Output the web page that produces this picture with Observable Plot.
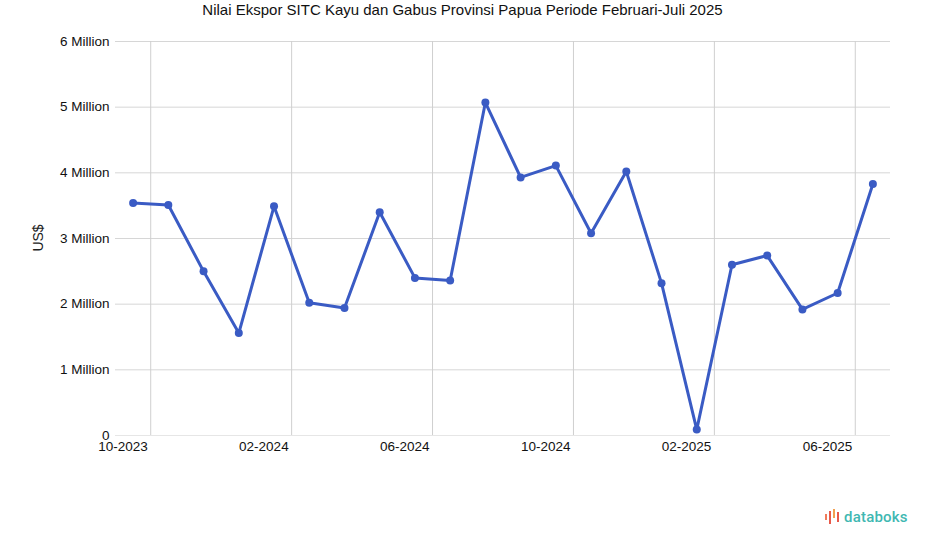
<!DOCTYPE html>
<html>
<head>
<meta charset="utf-8">
<script src="https://cdn.jsdelivr.net/npm/d3@7"></script>
<script src="https://cdn.jsdelivr.net/npm/@observablehq/plot@0.6"></script>
<style>
  html, body { margin: 0; padding: 0; background: #fff; }
  body { width: 925px; height: 547px; position: relative; overflow: hidden; font-family: "Liberation Sans", Arial, sans-serif; }
  #title { position: absolute; left: 0; top: 0; width: 925px; height: 20px; text-align: center; font-size: 15px; line-height: 20px; color: #111; }
  #chart { position: absolute; left: 0; top: 20px; }
  #ylabel { position: absolute; left: 38px; top: 238px; transform: translate(-50%, -50%) rotate(-90deg); font-size: 14px; color: #222; white-space: nowrap; }
  #logo { position: absolute; left: 824px; top: 508px; display: flex; align-items: center; gap: 2px; }
  #logo span { font-family: Roboto, sans-serif; font-size: 15px; font-weight: 500; color: #3fb8b2; letter-spacing: 0.2px; }
</style>
</head>
<body>
<div id="title">Nilai Ekspor SITC Kayu dan Gabus Provinsi Papua Periode Februari-Juli 2025</div>
<div id="chart"></div>
<div id="ylabel">US$</div>
<div id="logo">
  <svg width="18" height="18" viewBox="0 0 18 18">
    <rect x="1" y="6" width="2" height="6" fill="#f07b5a"/>
    <rect x="5" y="3" width="2" height="13" fill="#e8594a"/>
    <rect x="9" y="1" width="2" height="9" fill="#f2a04f"/>
    <rect x="13" y="4" width="2" height="10" fill="#e8594a"/>
  </svg>
  <span>databoks</span>
</div>
<script>
const months = ["10-2023","11-2023","12-2023","01-2024","02-2024","03-2024","04-2024","05-2024","06-2024","07-2024","08-2024","09-2024","10-2024","11-2024","12-2024","01-2025","02-2025","03-2025","04-2025","05-2025","06-2025","07-2025"];
const values = [3540000,3510000,2500000,1560000,3490000,2020000,1940000,3400000,2400000,2360000,5070000,3930000,4110000,3080000,4020000,2320000,90000,2600000,2740000,1920000,2170000,3830000];
const xTickLabels = ["10-2023","02-2024","06-2024","10-2024","02-2025","06-2025"];
const yTicks = [0,1000000,2000000,3000000,4000000,5000000,6000000];

const data = months.map((m, i) => ({i, month: m, value: values[i]}));
const xTickPos = xTickLabels.map(l => months.indexOf(l) + 0.5);

const lineColor = "#3a5bc4";

const chart = Plot.plot({
  width: 925,
  height: 527,
  marginLeft: 115,
  marginRight: 35,
  marginTop: 21,
  marginBottom: 112,
  style: {fontFamily: "'Liberation Sans', Arial, sans-serif", fontSize: "13.5px", color: "#111", background: "#fff"},
  x: {type: "linear", domain: [-0.5, 21.5]},
  y: {domain: [0, 6000000]},
  marks: [
    Plot.gridY(yTicks, {stroke: "#d6d6d6", strokeOpacity: 1, strokeWidth: 1}),
    Plot.gridX(xTickPos, {stroke: "#cfcfcf", strokeOpacity: 1, strokeWidth: 1}),
    Plot.ruleY([0], {stroke: "#e6e6e6"}),
    Plot.axisY(yTicks, {tickSize: 0, tickPadding: 6, fontSize: 13.5, tickFormat: d => d === 0 ? "0" : (d / 1e6) + " Million", label: null}),
    Plot.axisX(xTickPos, {tickSize: 0, tickPadding: 6, fontSize: 13.5, textAnchor: "end", dx: -3, tickFormat: (d) => xTickLabels[xTickPos.indexOf(d)], label: null}),
    Plot.line(data, {x: "i", y: "value", stroke: lineColor, strokeWidth: 3}),
    Plot.dot(data, {x: "i", y: "value", r: 4, fill: lineColor, stroke: "none"})
  ]
});
document.getElementById("chart").appendChild(chart);
</script>
</body>
</html>
